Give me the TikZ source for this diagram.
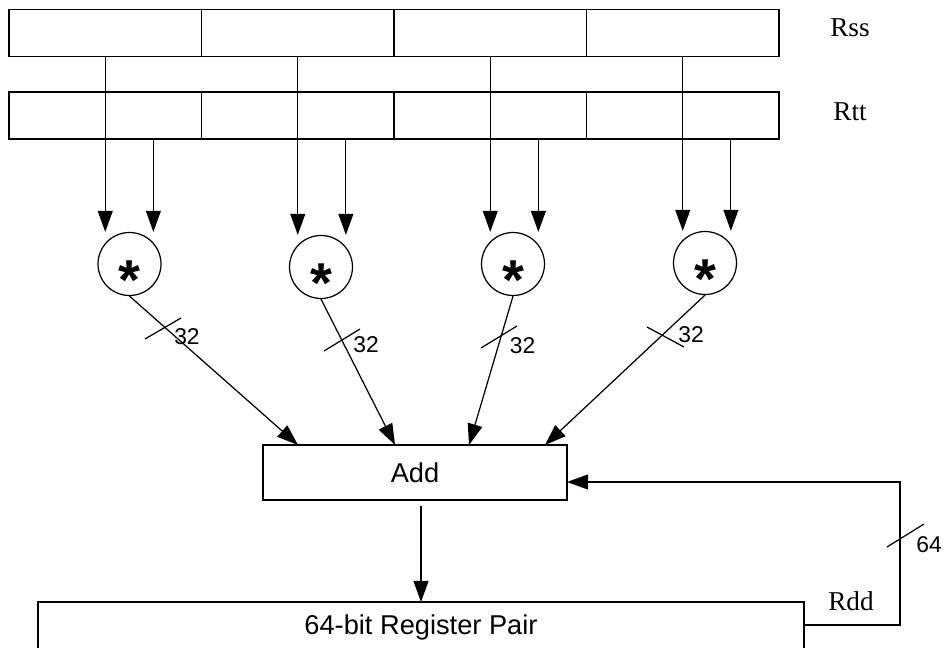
\documentclass[tikz,border=0pt]{standalone}
\usepackage{fontspec}
\setmainfont{Liberation Serif}
\setsansfont{Liberation Sans}
\usetikzlibrary{arrows.meta,calc}

\begin{document}
\begin{tikzpicture}[x=0.02cm,y=-0.02cm,
    cella/.style={draw,line width=0.9pt,minimum width=3.85cm,minimum height=0.94cm,inner sep=0pt,outer sep=0pt},
    molt/.style={draw,circle,line width=0.7pt,minimum size=1.26cm,inner sep=0pt},
    blocco/.style={draw,line width=0.8pt,inner sep=0pt,outer sep=0pt,font=\sffamily\fontsize{15.5}{17}\selectfont},
    freccia/.style={-{Triangle[length=12pt,width=8.5pt]},line width=0.7pt},
    tacca/.style={line width=0.7pt},
    etichetta/.style={font=\fontsize{15.5}{17}\selectfont},
    bus/.style={font=\sffamily\fontsize{13}{15}\selectfont},
    stella/.style={font=\sffamily\bfseries\fontsize{32}{32}\selectfont,yshift=-9pt}]
    \useasboundingbox (0,0) rectangle (943,648);
    \clip (0,0) rectangle (943,648);

    % Registri sorgente Rss e Rtt
    \foreach \i in {1,...,4} {
        \node[cella] (s\i) at ({9+192.5*(\i-0.5)},33) {};
        \node[cella] (t\i) at ({9+192.5*(\i-0.5)},115.5) {};
    }
    \node[etichetta] (rss) at (850,28) {Rss};
    \node[etichetta] (rtt) at (850,111.5) {Rtt};

    % Moltiplicatori
    \node[molt] (m1) at (129.5,264) {};
    \node[molt] (m2) at (321,267) {};
    \node[molt] (m3) at (513,264) {};
    \node[molt] (m4) at (705,263) {};
    \foreach \i in {1,...,4}
        \node[stella] (x\i) at (m\i) {*};

    % Ingressi dei moltiplicatori
    \foreach \i in {1,...,4} {
        \coordinate (q\i) at ($(t\i.south)!.5!(t\i.south east)$);
        \draw[freccia] (s\i.south) -- (s\i.south |- m\i.north);
        \draw[freccia] (q\i) -- (q\i |- m\i.north);
    }

    % Sommatore
    \node[blocco,minimum width=6.08cm,minimum height=1.1cm] (add) at (415,472.5) {Add};
    \foreach \i/\dx in {1/35,2/132,3/206,4/282}
        \coordinate (a\i) at ([shift={(\dx,0)}]add.north west);
    \foreach \i in {1,...,4}
        \draw[freccia] (m\i.south) -- (a\i);

    % Larghezza dei bus a 32 bit
    \draw[tacca] (145,339) -- (181,318);
    \node[bus] (b1) at (187,337) {32};
    \draw[tacca] (324,351) -- (360,329);
    \node[bus] (b2) at (366,345) {32};
    \draw[tacca] (481,348) -- (517,326);
    \node[bus] (b3) at (522.5,346) {32};
    \draw[tacca] (647,327) -- (684,347);
    \node[bus] (b4) at (691,335) {32};

    % Registro destinazione
    \node[blocco,minimum width=15.32cm,minimum height=1cm] (reg) at (421,627) {64-bit Register Pair};
    \draw[freccia] ($(reg.north |- add.south)+(0,6)$) -- (reg.north);
    \node[etichetta] (rdd) at (851,601) {Rdd};

    % Retroazione a 64 bit
    \draw[freccia] ([shift={(0,-2)}]reg.east) -- ++(96,0) |- ([shift={(0,9.5)}]add.east);
    \draw[tacca] (887,547) -- (924,524);
    \node[bus] (b64) at (929,545) {64};
\end{tikzpicture}
\end{document}
